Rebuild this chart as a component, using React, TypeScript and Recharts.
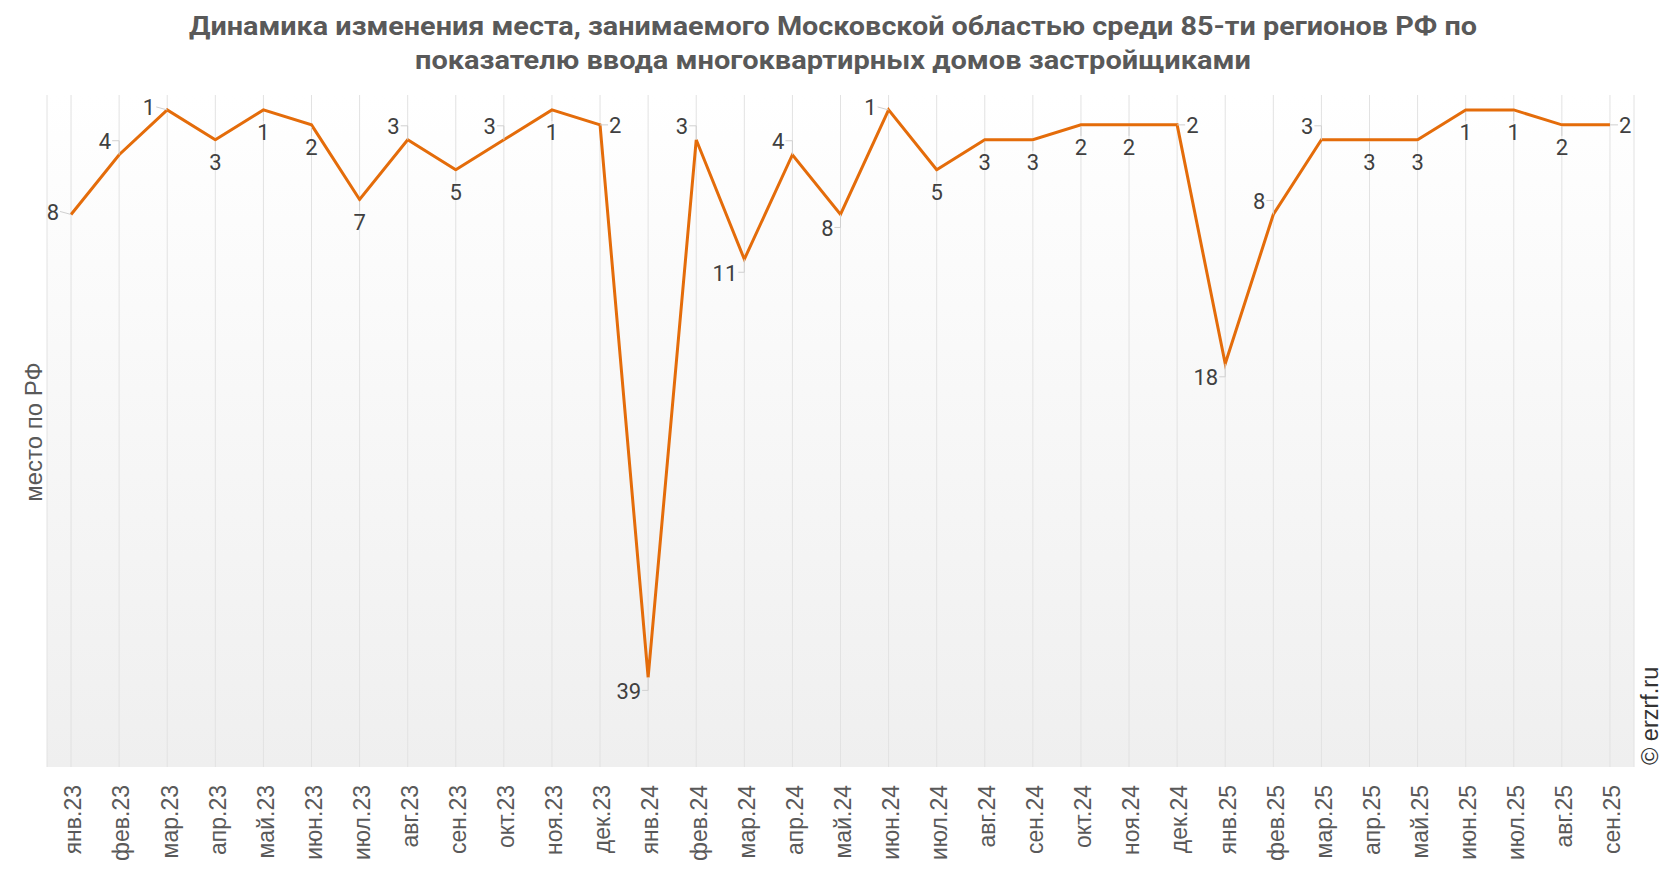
import React from "react";
import {
  LineChart,
  Line,
  XAxis,
  YAxis,
  CartesianGrid,
  LabelList,
} from "recharts";

const months = [
  "янв.23", "фев.23", "мар.23", "апр.23", "май.23", "июн.23", "июл.23", "авг.23",
  "сен.23", "окт.23", "ноя.23", "дек.23", "янв.24", "фев.24", "мар.24", "апр.24",
  "май.24", "июн.24", "июл.24", "авг.24", "сен.24", "окт.24", "ноя.24", "дек.24",
  "янв.25", "фев.25", "мар.25", "апр.25", "май.25", "июн.25", "июл.25", "авг.25",
  "сен.25",
];

const ranks = [
  8, 4, 1, 3, 1, 2, 7, 3, 5, 3, 1, 2, 39, 3, 11, 4, 8, 1, 5, 3, 3, 2, 2, 2, 18, 8, 3, 3,
  3, 1, 1, 2, 2,
];

// where each value label sits relative to its point
const labelSide = [
  "l", "ul", "l", "b", "b", "b", "b", "ul", "b", "ul", "b", "r", "bl", "ul", "bl", "ul",
  "bl", "l", "b", "b", "b", "b", "b", "r", "bl", "ul", "ul", "b", "b", "b", "b", "b", "r",
];

const title1 =
  "Динамика изменения места, занимаемого Московской областью среди 85-ти регионов РФ по";
const title2 = "показателю ввода многоквартирных домов застройщиками";

const data = months.map((m, i) => ({ month: m, idx: i + 0.5, rank: ranks[i] }));
const edgeTicks = [...months.map((_, i) => i), months.length];

const W = 1666;
const H = 872;
const PLOT_W = W - 47 - 32;
const HALF_BAND = PLOT_W / months.length / 2;
const LINE = "#E46C0A";
const LEADER = "#d0d0d0";

function MonthTick(props: any) {
  const { x, y, payload } = props;
  return (
    <text
      transform={`translate(${x + 2},${y + 10}) rotate(-90)`}
      textAnchor="end"
      dy="0.36em"
      fontFamily="'Liberation Sans', Arial, sans-serif"
      fontSize={23}
      fill="#595959"
    >
      {payload.value}
    </text>
  );
}

function renderLabel(props: any) {
  const { index, value } = props;
  const x = props.x ?? props.viewBox?.x;
  const y = props.y ?? props.viewBox?.y;
  if (x == null || y == null) return null;
  const side = labelSide[index];
  let tx = x;
  let ty = y + 23;
  let anchor: "start" | "middle" | "end" = "middle";
  let leader = `M${x},${y + 2}V${y + 11}`;
  if (side === "l") {
    tx = x - 12;
    ty = y - 2;
    anchor = "end";
    leader = `M${x},${y}L${x - 11},${y - 3}`;
  } else if (side === "ul") {
    tx = x - 8;
    ty = y - 13;
    anchor = "end";
    leader = `M${x},${y}V${y - 14}H${x - 7}`;
  } else if (side === "bl") {
    tx = x - 7;
    ty = y + 14;
    anchor = "end";
    leader = `M${x},${y}V${y + 13}H${x - 6}`;
  } else if (side === "r") {
    tx = x + 9;
    ty = y + 1;
    anchor = "start";
    leader = `M${x},${y}H${x + 8}`;
  }
  return (
    <g key={`lbl-${index}`}>
      <path d={leader} stroke={LEADER} strokeWidth={1} fill="none" />
      <text
        x={tx}
        y={ty}
        textAnchor={anchor}
        dominantBaseline="central"
        fontFamily="Roboto, sans-serif"
        fontSize={22}
        fill="#404040"
      >
        {value}
      </text>
    </g>
  );
}

export default function App() {
  return (
    <div
      style={{
        position: "absolute",
        left: 0,
        top: 0,
        width: W,
        height: H,
        overflow: "hidden",
        background: "#fff",
      }}
    >
      <LineChart
        width={W}
        height={H}
        data={data}
        margin={{ top: 95, right: 32, bottom: 0, left: 47 }}
      >
        <defs>
          <linearGradient id="plotBg" x1="0" y1="0" x2="0" y2="1">
            <stop offset="0%" stopColor="#ffffff" />
            <stop offset="100%" stopColor="#efefef" />
          </linearGradient>
        </defs>
        <CartesianGrid horizontal={false} stroke="#e2e2e2" fill="url(#plotBg)" />
        <XAxis
          xAxisId="edges"
          type="number"
          dataKey="idx"
          domain={[0, months.length]}
          ticks={edgeTicks}
          allowDataOverflow
          tick={false}
          tickSize={8}
          tickLine={{ stroke: "#c8c8c8" }}
          axisLine={{ stroke: "#c8c8c8" }}
          height={0}
        />
        <XAxis
          dataKey="month"
          interval={0}
          padding={{ left: HALF_BAND, right: HALF_BAND }}
          tickLine={false}
          axisLine={false}
          tick={<MonthTick />}
          height={105}
        />
        <XAxis
          xAxisId="top"
          orientation="top"
          dataKey="month"
          tick={false}
          tickLine={false}
          axisLine={{ stroke: "#dcdcdc" }}
          height={0}
        />
        <YAxis
          domain={[0, 45]}
          reversed
          width={0}
          tick={false}
          tickLine={false}
          axisLine={{ stroke: "#dcdcdc" }}
        />
        <YAxis
          yAxisId="right"
          orientation="right"
          domain={[0, 45]}
          width={0}
          tick={false}
          tickLine={false}
          axisLine={{ stroke: "#dcdcdc" }}
        />
        <Line
          type="linear"
          dataKey="rank"
          stroke={LINE}
          strokeWidth={3}
          dot={false}
          activeDot={false}
          isAnimationActive={false}
        >
          <LabelList dataKey="rank" content={renderLabel} />
        </Line>
      </LineChart>
      <svg
        width={W}
        height={H}
        style={{ position: "absolute", left: 0, top: 0, pointerEvents: "none" }}
      >
        <g fontFamily="Roboto, sans-serif" fontWeight="bold" fontSize={25} fill="#595959">
          <text x={W / 2} y={35} textAnchor="middle" textLength={1288} lengthAdjust="spacingAndGlyphs">
            {title1}
          </text>
          <text x={W / 2} y={69} textAnchor="middle" textLength={836} lengthAdjust="spacingAndGlyphs">
            {title2}
          </text>
        </g>
        <text
          transform="translate(42,432) rotate(-90)"
          textAnchor="middle"
          fontFamily="'Liberation Sans', Arial, sans-serif"
          fontSize={24}
          fill="#595959"
        >
          место по РФ
        </text>
        <text
          transform="translate(1658,765) rotate(-90)"
          textAnchor="start"
          fontFamily="'Liberation Sans', Arial, sans-serif"
          fontSize={23.5}
          fill="#333"
        >
          © erzrf.ru
        </text>
      </svg>
    </div>
  );
}
